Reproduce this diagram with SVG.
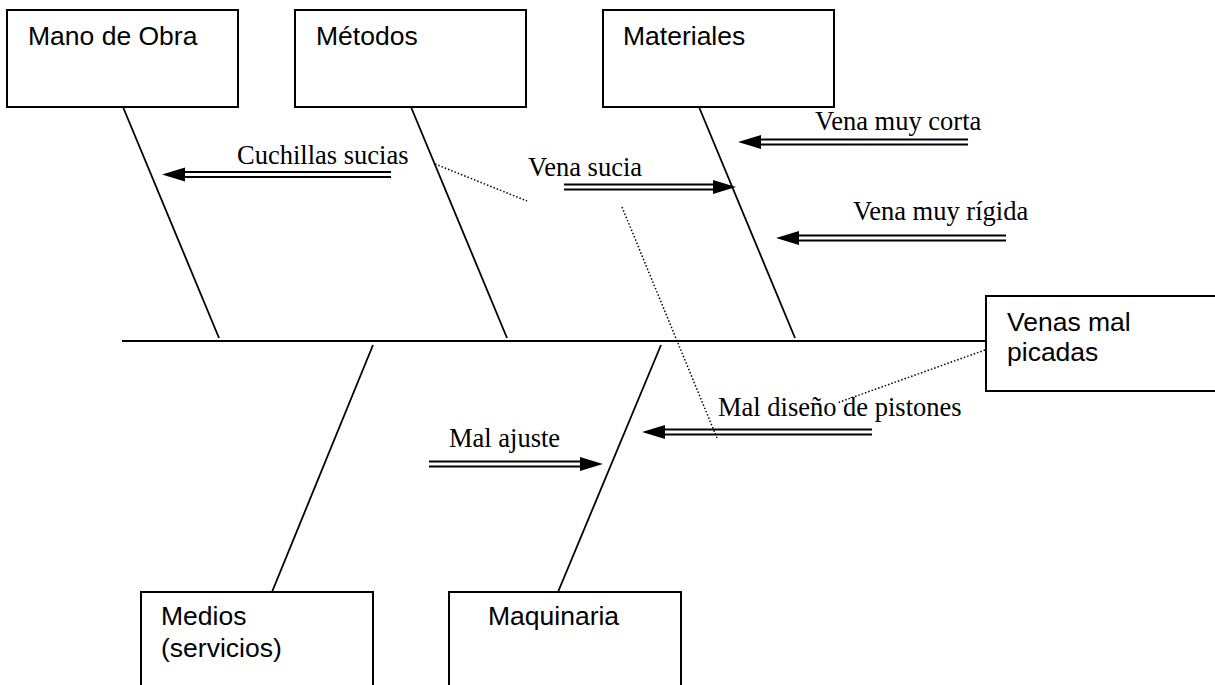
<svg xmlns="http://www.w3.org/2000/svg" width="1215" height="685" viewBox="0 0 1215 685">
<style>
.box{fill:#fff;stroke:#000;stroke-width:2}
.bl{font-family:"Liberation Sans",Arial,sans-serif;font-size:26.5px;fill:#000}
.tl{font-family:"Liberation Serif","Times New Roman",serif;font-size:26.5px;fill:#000}
.ln{stroke:#000;stroke-width:1.8;fill:none}
.dl{stroke:#000;stroke-width:1.5;stroke-dasharray:1.5 2;fill:none}
.dbl{stroke:#000;stroke-width:2.2;fill:none}
.ah{fill:#000}
</style>
<rect width="1215" height="685" fill="#fff"/>
<g id="connectors">
<line class="ln" x1="122" y1="341" x2="986" y2="341"/>
<line class="ln" x1="123" y1="107" x2="219" y2="338"/>
<line class="ln" x1="411" y1="107" x2="507" y2="338"/>
<line class="ln" x1="699" y1="107" x2="795" y2="338"/>
<line class="ln" x1="373" y1="345" x2="272" y2="592"/>
<line class="ln" x1="661" y1="345" x2="558" y2="592"/>
<line class="dl" x1="435" y1="164" x2="527" y2="201"/>
<line class="dl" x1="622" y1="207" x2="717" y2="438"/>
<line class="dl" x1="985" y1="350" x2="837" y2="403"/>
<g id="arrow-cuchillas">
<line class="dbl" x1="391" y1="172" x2="180" y2="172"/><line class="dbl" x1="391" y1="177" x2="180" y2="177"/>
<polygon class="ah" points="162,174.5 185,167.5 185,181.5"/>
</g>
<g id="arrow-vena-sucia">
<line class="dbl" x1="564" y1="184.5" x2="718" y2="184.5"/><line class="dbl" x1="564" y1="189.5" x2="718" y2="189.5"/>
<polygon class="ah" points="736,187 713,180 713,194"/>
</g>
<g id="arrow-vena-corta">
<line class="dbl" x1="968" y1="139.5" x2="756" y2="139.5"/><line class="dbl" x1="968" y1="144.5" x2="756" y2="144.5"/>
<polygon class="ah" points="738,142 761,135 761,149"/>
</g>
<g id="arrow-vena-rigida">
<line class="dbl" x1="1006" y1="235.5" x2="794" y2="235.5"/><line class="dbl" x1="1006" y1="240.5" x2="794" y2="240.5"/>
<polygon class="ah" points="776,238 799,231 799,245"/>
</g>
<g id="arrow-mal-diseno">
<line class="dbl" x1="872" y1="429.5" x2="660" y2="429.5"/><line class="dbl" x1="872" y1="434.5" x2="660" y2="434.5"/>
<polygon class="ah" points="642,432 665,425 665,439"/>
</g>
<g id="arrow-mal-ajuste">
<line class="dbl" x1="429" y1="461.5" x2="585" y2="461.5"/><line class="dbl" x1="429" y1="466.5" x2="585" y2="466.5"/>
<polygon class="ah" points="603,464 580,457 580,471"/>
</g>
</g>
<g id="labels">
<text class="tl" x="237" y="164">Cuchillas sucias</text>
<text class="tl" x="528" y="176">Vena sucia</text>
<text class="tl" x="815" y="130">Vena muy corta</text>
<text class="tl" x="853" y="220">Vena muy rígida</text>
<text class="tl" x="718" y="416">Mal diseño de pistones</text>
<text class="tl" x="449" y="447">Mal ajuste</text>
</g>
<g id="node-mano-de-obra">
<rect class="box" x="7" y="10" width="231" height="97"/>
<text class="bl" x="28" y="45">Mano de Obra</text>
</g>
<g id="node-metodos">
<rect class="box" x="295" y="10" width="231" height="97"/>
<text class="bl" x="316" y="45">Métodos</text>
</g>
<g id="node-materiales">
<rect class="box" x="603" y="10" width="231" height="97"/>
<text class="bl" x="623" y="45">Materiales</text>
</g>
<g id="node-venas">
<rect class="box" x="986" y="296" width="240" height="95"/>
<text class="bl" x="1007" y="331">Venas mal</text>
<text class="bl" x="1007" y="361">picadas</text>
</g>
<g id="node-medios">
<rect class="box" x="141" y="592" width="232" height="100"/>
<text class="bl" x="161" y="625">Medios</text>
<text class="bl" x="161" y="657">(servicios)</text>
</g>
<g id="node-maquinaria">
<rect class="box" x="449" y="592" width="232" height="100"/>
<text class="bl" x="488" y="625">Maquinaria</text>
</g>
</svg>
